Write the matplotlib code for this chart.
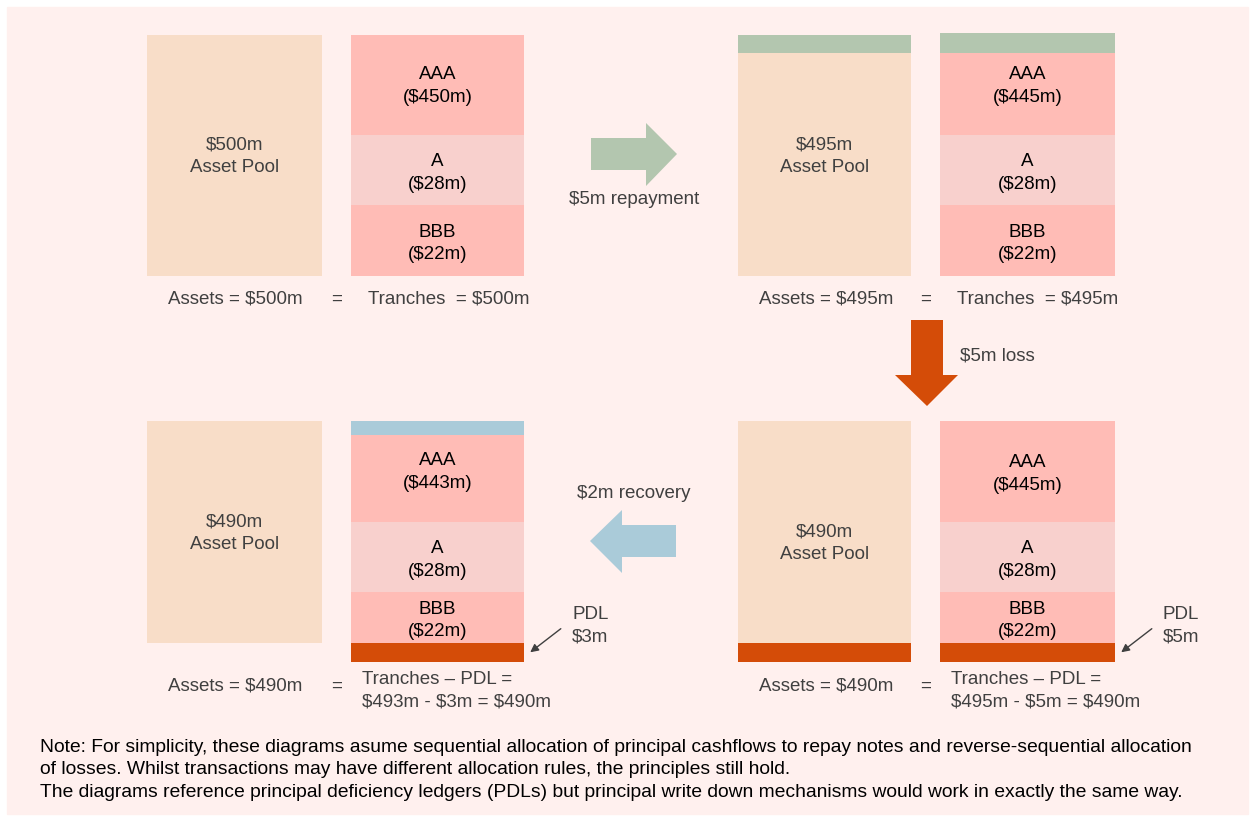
import matplotlib
matplotlib.use("Agg")
import matplotlib.pyplot as plt
from matplotlib.patches import Rectangle, Polygon

# ---- data / labels ----
pool_labels = ["$500m\nAsset Pool", "$495m\nAsset Pool", "$490m\nAsset Pool", "$490m\nAsset Pool"]
tranche_names = ["AAA", "A", "BBB"]
tranche_sizes = [[450, 28, 22], [445, 28, 22], [443, 28, 22], [445, 28, 22]]
pdl_amounts = [None, None, 3, 5]
flow_labels = ["$5m repayment", "$5m loss", "$2m recovery"]
eq_left = ["Assets = $500m", "Assets = $495m", "Assets = $490m", "Assets = $490m"]
eq_right = ["Tranches  = $500m", "Tranches  = $495m",
            "Tranches \u2013 PDL =\n$493m - $3m = $490m",
            "Tranches \u2013 PDL =\n$495m - $5m = $490m"]
note = ("Note: For simplicity, these diagrams asume sequential allocation of principal cashflows to repay notes and reverse-sequential allocation\n"
        "of losses. Whilst transactions may have different allocation rules, the principles still hold.\n"
        "The diagrams reference principal deficiency ledgers (PDLs) but principal write down mechanisms would work in exactly the same way.")

# colours
BG = "#FFF0EE"
PEACH = "#F8DDC8"
PINK = "#FFBCB6"
LPINK = "#F8D0CD"
GREEN = "#B3C6AF"
BLUE = "#AACBD9"
ORANGE = "#D44C08"
GREY = "#404040"
FS = 13.5
DY = 2  # small vertical nudge for text

plt.rcParams['font.family'] = ['Liberation Sans', 'DejaVu Sans']

fig = plt.figure(figsize=(12.5, 8.16), dpi=100)
ax = fig.add_axes([0, 0, 1, 1])
ax.set_xlim(0, 1250)
ax.set_ylim(816, 0)
ax.axis("off")

ax.add_patch(Rectangle((7, 7), 1241, 807, color=BG, zorder=0))


def box(x0, y0, x1, y1, c):
    ax.add_patch(Rectangle((x0, y0), x1 - x0, y1 - y0, color=c, lw=0, zorder=1))


def label(x, y, s, **kw):
    kw.setdefault("ha", "center")
    kw.setdefault("va", "center")
    kw.setdefault("fontsize", FS)
    kw.setdefault("color", GREY)
    kw.setdefault("linespacing", 1.45)
    ax.text(x, y + DY, s, zorder=3, **kw)


# panel layout: (pool x0, x1, tranche x0, x1, top y, bottom y)
panels = [(147, 322, 351, 524, 35, 276),
          (738, 911, 940, 1115, 35, 276),
          (147, 322, 351, 524, 421, 643),
          (738, 911, 940, 1115, 421, 643)]
# segment boundaries (pixel layout) inside tranche column
seg_y = [[35, 135, 205, 276], [53, 135, 205, 276], [435, 522, 592, 643], [421, 522, 592, 643]]
aaa_y = [84, 84, 470, 472]
pool_y = [154, 154, 531, 541]
tr_colors = [PINK, LPINK, PINK]

for i, (px0, px1, tx0, tx1, ty, by) in enumerate(panels):
    # asset pool
    if i == 1:
        box(px0, 35, px1, 53, GREEN)
        box(px0, 53, px1, by, PEACH)
    else:
        box(px0, ty, px1, by, PEACH)
    if i == 3:
        box(px0, 643, px1, 662, ORANGE)
    label((px0 + px1) / 2, pool_y[i], pool_labels[i])

    # tranches
    ys = seg_y[i]
    if i == 1:
        box(tx0, 33, tx1, 53, GREEN)
    if i == 2:
        box(tx0, 421, tx1, 435, BLUE)
    for k in range(3):
        box(tx0, ys[k], tx1, ys[k + 1], tr_colors[k])
        if k == 0:
            cy = aaa_y[i]
        else:
            cy = (ys[k] + ys[k + 1]) / 2 + 1
        label((tx0 + tx1) / 2, cy,
              "%s\n($%dm)" % (tranche_names[k], tranche_sizes[i][k]),
              color="black")
    if pdl_amounts[i] is not None:
        box(tx0, 643, tx1, 662, ORANGE)
        label(tx1 + 48, 624, "PDL\n$%dm" % pdl_amounts[i], ha="left")
        ax.annotate("", xy=(tx1 + 4, 654), xytext=(tx1 + 39, 627),
                    arrowprops=dict(arrowstyle="-|>", color=GREY, lw=1,
                                    mutation_scale=12), zorder=3)

    # equation line
    ey = 297 if i < 2 else 684
    label(px0 + 88, ey, eq_left[i])
    label((px1 + tx0) / 2, ey, "=")
    if i < 2:
        label(tx0 + 98, ey, eq_right[i])
    else:
        label(tx0 + 11, 689, eq_right[i], ha="left")

# flow arrows
ax.add_patch(Polygon([(591, 138), (646, 138), (646, 123), (677, 154), (646, 186),
                      (646, 170), (591, 170)], closed=True, color=GREEN, lw=0))
label(634, 198, flow_labels[0])

ax.add_patch(Polygon([(911, 320), (943, 320), (943, 375), (958, 375), (927, 406),
                      (895, 375), (911, 375)], closed=True, color=ORANGE, lw=0))
label(960, 354, flow_labels[1], ha="left")

ax.add_patch(Polygon([(676, 525), (622, 525), (622, 510), (590, 541), (622, 573),
                      (622, 557), (676, 557)], closed=True, color=BLUE, lw=0))
label(634, 492, flow_labels[2])

# note
label(40, 768, note, ha="left", fontsize=13.9, color="black", linespacing=1.4)

fig.savefig("out.png", dpi=100, facecolor="white")
